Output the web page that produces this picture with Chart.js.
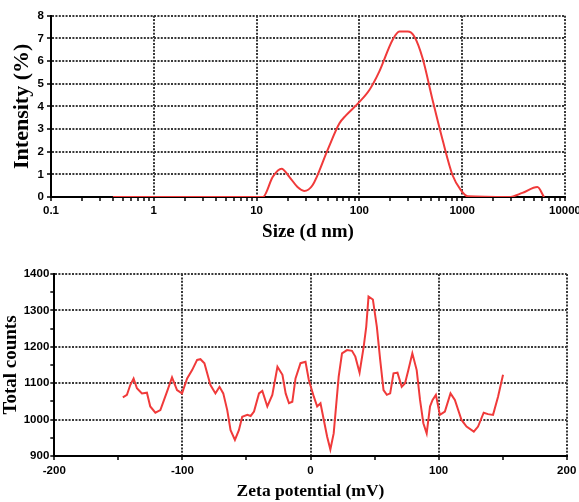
<!DOCTYPE html>
<html lang="en">
<head>
    <meta charset="UTF-8">
    <title>Size distribution and zeta potential</title>
    <script src="https://cdn.jsdelivr.net/npm/chart.js"></script>
    <style>
        html, body { margin: 0; padding: 0; background: #fff; }
        #wrap { position: relative; width: 579px; height: 502px; }
        #sizeChart { position: absolute; left: 0; top: 0; }
        #zetaChart { position: absolute; left: 0; top: 250px; }
    </style>
</head>
<body>
    <div id="wrap">
        <canvas id="sizeChart" width="579" height="250"></canvas>
        <canvas id="zetaChart" width="579" height="252"></canvas>
    </div>

    <script>
        // size distribution (d nm vs intensity %)
        const sizes = [0.4, 1, 10, 11.5, 14.4, 17.5, 20.9, 25, 29, 35, 49, 64, 74, 97, 125, 156, 210, 245, 295, 342, 412, 515, 646, 806, 970, 1130, 2860, 3850, 5390, 6250];
        const intensity = [0, 0, 0, 0, 0.9, 1.25, 0.88, 0.44, 0.27, 0.52, 2.07, 3.25, 3.6, 4.13, 4.72, 5.53, 6.93, 7.3, 7.3, 7.08, 6.12, 4.28, 2.5, 0.96, 0.3, 0.03, 0, 0.18, 0.44, 0];
        const sizeTickLabels = [0.1, 1, 10, 100, 1000, 10000];

        // zeta potential (mV vs total counts)
        const zeta = [-146.5, -143.3, -140.7, -138.1, -135.5, -131.6, -127.7, -125.1, -121.1, -117.2, -112, -108.1, -104.2, -100.3, -96.3, -92.4, -88.5, -85.9, -82.8, -78.1, -74.2, -71, -68.1, -65, -62.4, -59, -55.9, -53.3, -49.3, -46.7, -44.1, -40.2, -37.6, -33.7, -29.8, -25.8, -21.9, -19.4, -16.8, -14.2, -11.7, -7.8, -3.9, -1.3, 2.6, 5.2, 7.8, 10.9, 13, 15.5, 18.1, 22, 24.6, 28.5, 32.4, 35, 38.3, 41.5, 43.5, 45.3, 48.7, 51.8, 54.4, 57, 59.6, 62.2, 64.8, 67.9, 71.2, 73.8, 76.4, 79.5, 82.9, 85.5, 88.1, 90.7, 93.3, 95.3, 97.9, 101, 104.9, 109.3, 112.7, 117.9, 121.8, 127.5, 130.8, 135.2, 138.6, 142.5, 146.4, 150.3];
        const counts = [1061, 1068, 1095, 1113, 1086, 1072, 1074, 1036, 1019, 1026, 1077, 1116, 1081, 1072, 1113, 1136, 1164, 1166, 1155, 1095, 1072, 1090, 1072, 1026, 971, 944, 971, 1008, 1013, 1010, 1022, 1072, 1079, 1036, 1068, 1145, 1123, 1072, 1045, 1049, 1113, 1155, 1159, 1109, 1063, 1036, 1045, 990, 953, 918, 962, 1118, 1182, 1191, 1189, 1173, 1129, 1200, 1255, 1338, 1330, 1255, 1164, 1081, 1068, 1072, 1127, 1129, 1090, 1100, 1136, 1182, 1136, 1054, 990, 962, 1036, 1054, 1068, 1013, 1022, 1072, 1054, 999, 981, 967, 981, 1019, 1015, 1013, 1063, 1123];

        const RED = '#f03a3a';
        const GRID = '#383838';
        const tickFont = { family: "'Liberation Sans', Arial, sans-serif", size: 11.5, weight: 'bold' };
        const titleFont = size => ({ family: "'Liberation Serif', 'Times New Roman', serif", size: size, weight: 'bold' });

        function gridFor(isMajor) {
            return {
                color: ctx => (ctx.tick && isMajor(ctx.tick.value)) ? GRID : 'rgba(0,0,0,0)',
                lineWidth: 2,
                tickColor: '#000',
                tickLength: 4,
                tickWidth: 1.5
            };
        }
        const border = { display: true, color: '#000', width: 2, dash: [2, 1.4] };

        // force scale boxes so the plot areas land where the reference has them
        function fixWidth(w) {
            return scale => { scale.width = w; scale.paddingTop = 0; scale.paddingBottom = 0; };
        }
        function fixHeight(h) {
            return scale => { scale.height = h; scale.paddingLeft = 0; scale.paddingRight = 0; };
        }

        Chart.defaults.color = '#000';
        Chart.defaults.animation = false;

        // --- top: size distribution ---
        const logTicks = [];
        for (let e = -1; e <= 3; e++) {
            for (let k = 1; k <= 9; k++) {
                logTicks.push(e < 0 ? k / 10 : k * Math.pow(10, e));
            }
        }
        logTicks.push(10000);

        new Chart(document.getElementById('sizeChart').getContext('2d'), {
            type: 'line',
            data: {
                datasets: [{
                    data: sizes.map((s, i) => ({ x: s, y: intensity[i] })),
                    borderColor: RED,
                    borderWidth: 2,
                    pointRadius: 0,
                    cubicInterpolationMode: 'monotone',
                    tension: 0.3
                }]
            },
            options: {
                responsive: false,
                layout: { padding: { top: 15.7, right: 14, left: 0, bottom: 0 } },
                plugins: { legend: { display: false }, tooltip: { enabled: false } },
                scales: {
                    x: {
                        type: 'logarithmic',
                        min: 0.1,
                        max: 10000,
                        afterBuildTicks: scale => { scale.ticks = logTicks.map(v => ({ value: v })); },
                        afterFit: fixHeight(53),
                        ticks: {
                            font: tickFont,
                            padding: 3,
                            maxRotation: 0,
                            autoSkip: false,
                            callback: v => sizeTickLabels.includes(v) ? String(v) : ''
                        },
                        grid: gridFor(v => sizeTickLabels.includes(v)),
                        border: border,
                        title: { display: true, text: 'Size (d nm)', font: titleFont(19), padding: { top: 0, bottom: 7 } }
                    },
                    y: {
                        min: 0,
                        max: 8,
                        afterFit: fixWidth(51),
                        ticks: {
                            stepSize: 0.5,
                            font: tickFont,
                            padding: 3,
                            callback: v => (v % 1 === 0) ? String(v) : ''
                        },
                        grid: gridFor(v => v % 1 === 0),
                        border: border,
                        title: { display: true, text: 'Intensity (%)', font: titleFont(22), padding: { top: 9, bottom: 0 } }
                    }
                }
            }
        });

        // --- bottom: zeta potential ---
        new Chart(document.getElementById('zetaChart').getContext('2d'), {
            type: 'line',
            data: {
                datasets: [{
                    data: zeta.map((z, i) => ({ x: z, y: counts[i] })),
                    borderColor: RED,
                    borderWidth: 2,
                    pointRadius: 0,
                    tension: 0
                }]
            },
            options: {
                responsive: false,
                layout: { padding: { top: 24, right: 12.3, left: 0, bottom: 0 } },
                plugins: { legend: { display: false }, tooltip: { enabled: false } },
                scales: {
                    x: {
                        type: 'linear',
                        min: -200,
                        max: 200,
                        afterFit: fixHeight(46),
                        ticks: {
                            stepSize: 50,
                            font: tickFont,
                            padding: 4,
                            maxRotation: 0,
                            autoSkip: false,
                            callback: v => (v % 100 === 0) ? String(v) : ''
                        },
                        grid: gridFor(v => v % 100 === 0),
                        border: border,
                        title: { display: true, text: 'Zeta potential (mV)', font: titleFont(17.5), padding: { top: 0, bottom: 0 } }
                    },
                    y: {
                        min: 900,
                        max: 1400,
                        afterFit: fixWidth(54.3),
                        ticks: {
                            stepSize: 50,
                            font: tickFont,
                            padding: 1,
                            autoSkip: false,
                            callback: v => (v % 100 === 0) ? String(v) : ''
                        },
                        grid: gridFor(v => v % 100 === 0),
                        border: border,
                        title: { display: true, text: 'Total counts', font: titleFont(19), padding: { top: 0, bottom: 0 } }
                    }
                }
            }
        });
    </script>
</body>
</html>
